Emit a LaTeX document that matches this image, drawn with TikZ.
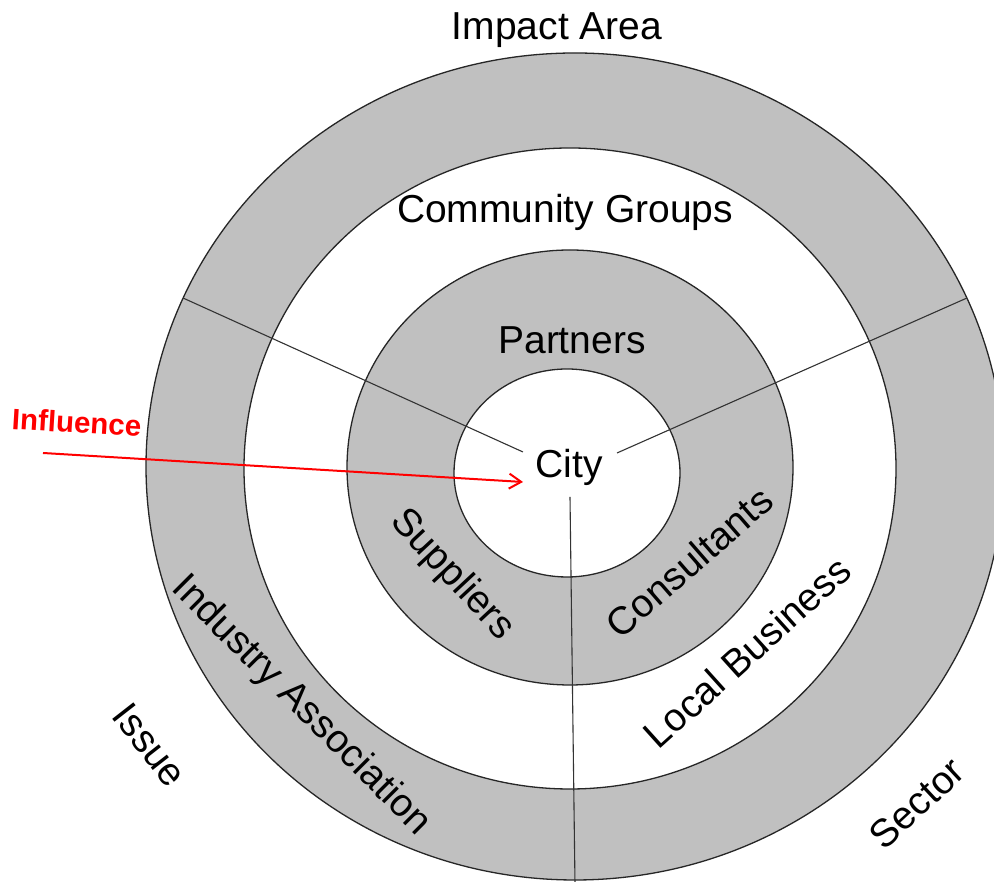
\documentclass[tikz,border=0pt]{standalone}
\usepackage{fontspec}
\setmainfont{Liberation Sans}
\usetikzlibrary{arrows.meta}
\definecolor{ringgrey}{RGB}{192,192,192}
\definecolor{inflred}{RGB}{255,0,0}
\begin{document}
\begin{tikzpicture}[x=1pt,y=1pt,
  ring/.style={draw=black!85,line width=1.3pt},
  divider/.style={draw=black!80,line width=1.1pt},
  lbl/.style={font=\fontsize{39}{46}\selectfont,inner sep=0pt,text=black},
  infl/.style={font=\fontsize{29.5}{34}\selectfont\bfseries,inner sep=0pt,text=inflred}
]
\useasboundingbox (0,0) rectangle (994,882);
\clip (0,0) rectangle (994,882);
% rings
\fill[white] (0,0) rectangle (994,882);
\draw[ring,fill=ringgrey] (575,415.5) ellipse [x radius=429, y radius=413.5];
\draw[ring,fill=white] (570,413.5) ellipse [x radius=326, y radius=320.5];
\draw[ring,fill=ringgrey] (570,414.5) ellipse [x radius=223, y radius=217.5];
\draw[ring,fill=white] (567,409) ellipse [x radius=113, y radius=104];
% divider lines
\coordinate (ulout) at (183,584);
\coordinate (ulin) at (523,430);
\coordinate (urout) at (967,584);
\coordinate (urin) at (617,429);
\coordinate (btin) at (570,385);
\coordinate (btout) at (575,-2);
\draw[divider] (ulout) -- (ulin);
\draw[divider] (urout) -- (urin);
\draw[divider] (btin) -- (btout);
% labels
\node[lbl,anchor=base] (impact) at (557,842) {Impact Area};
\node[lbl,anchor=base] (community) at (565,659) {Community Groups};
\node[lbl,anchor=base] (partners) at (572,528) {Partners};
\node[lbl,anchor=base] (city) at (569,404) {City};
\node[lbl,rotate=-47] (suppliers) at (452,307) {Suppliers};
\node[lbl,rotate=41] (consultants) at (689,320) {Consultants};
\node[lbl,rotate=-45] (industry) at (301,176) {Industry Association};
\node[lbl,rotate=42] (local) at (747,230) {Local Business};
\node[lbl,rotate=-52] (issue) at (150,137) {Issue};
\node[lbl,rotate=43] (sector) at (917,79) {Sector};
% influence
\node[infl,anchor=base,rotate=-3.5] (influence) at (76,449) {Influence};
\coordinate (inflstart) at (43,429);
\coordinate (infltip) at (523,400);
\draw[draw=inflred,line width=2pt,-{Straight Barb[length=12pt,width=15pt]}] (inflstart) -- (infltip);
\end{tikzpicture}
\end{document}
